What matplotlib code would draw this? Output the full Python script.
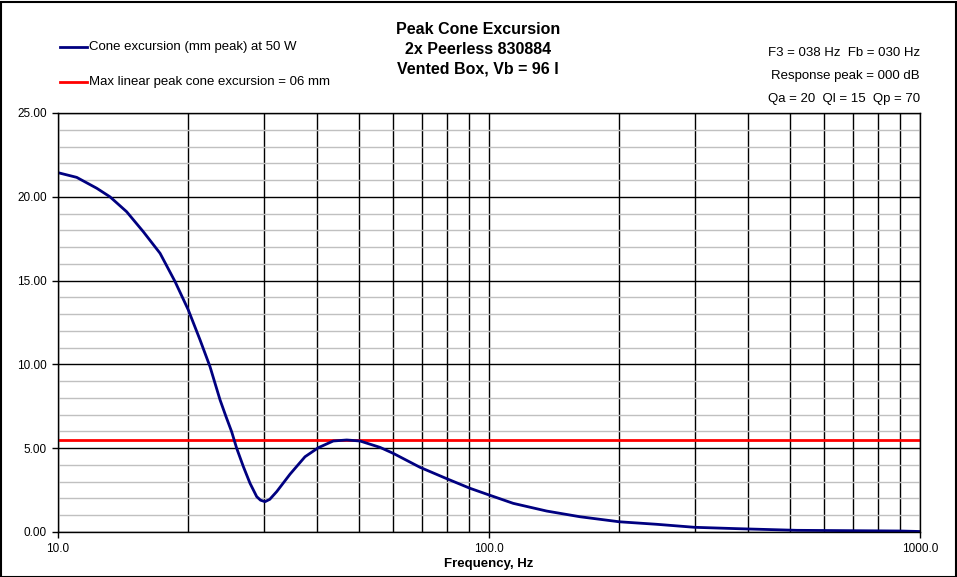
import numpy as np
import matplotlib.pyplot as plt
from matplotlib.ticker import FixedLocator, MultipleLocator, NullFormatter

# -----------------------------
# Data
# -----------------------------
freq_hz = [10.0, 11.05, 12.30, 13.2, 14.43, 15.77, 17.25, 18.69,
           20.06, 21.36, 22.53, 23.14, 23.77, 24.54, 25.29, 25.98, 26.92,
           27.89, 28.91, 29.5, 30.22, 31.0, 32.17, 34.54, 37.42,
           40.18, 43.52, 46.77, 50.2, 55.86, 59.98, 69.17, 79.8, 90.3, 100.0,
           113.8, 136.1, 162.6, 200.6, 244.9, 300.0, 375.6, 517.6, 898.8, 1000.0]
excursion_mm = [21.44, 21.16, 20.51, 20.00, 19.11, 17.92, 16.63, 14.94,
                13.25, 11.46, 9.86, 8.87, 7.88, 6.88, 5.98, 4.99, 3.90,
                2.91, 2.11, 1.90, 1.81, 1.95, 2.41, 3.45, 4.49,
                5.03, 5.43, 5.49, 5.43, 5.05, 4.69, 3.86, 3.18, 2.61, 2.21,
                1.71, 1.25, 0.91, 0.61, 0.46, 0.28, 0.20, 0.10, 0.06, 0.03]
xmax_mm = 5.5

title_lines = ["Peak Cone Excursion", "2x Peerless 830884", "Vented Box, Vb = 96 l"]
legend_labels = ["Cone excursion (mm peak) at 50 W",
                 "Max linear peak cone excursion = 06 mm"]
info_lines = ["F3 = 038 Hz  Fb = 030 Hz", "Response peak = 000 dB",
              "Qa = 20  Ql = 15  Qp = 70"]
x_ticks = [10, 100, 1000]
x_ticklabels = ["10.0", "100.0", "1000.0"]

plt.rcParams['font.family'] = ['Liberation Sans', 'DejaVu Sans']

W, H = 957, 577
fig = plt.figure(figsize=(W / 100, H / 100), dpi=100)
fig.patch.set_facecolor("white")
fig.patches.append(plt.Rectangle((0.5 / W, 0.5 / H), 1 - 2 / W, 1 - 2 / H,
                                 transform=fig.transFigure, fill=False,
                                 edgecolor="black", linewidth=1.5))

ax = fig.add_axes([58 / W, 1 - 532 / H, (920 - 58) / W, (532 - 113) / H])
ax.set_xscale("log")
ax.set_xlim(10, 1000)
ax.set_ylim(0, 25)

# grid
ax.xaxis.set_major_locator(FixedLocator(x_ticks))
ax.xaxis.set_minor_locator(FixedLocator([m * d for d in (10, 100) for m in range(2, 10)]))
ax.xaxis.set_minor_formatter(NullFormatter())
ax.set_xticks(x_ticks, x_ticklabels)
ax.yaxis.set_major_locator(MultipleLocator(5))
ax.yaxis.set_minor_locator(MultipleLocator(1))
ax.set_yticks(np.arange(0, 26, 5), [f"{v:.2f}" for v in range(0, 26, 5)])
ax.grid(True, which="major", color="black", linewidth=1.0)
ax.grid(True, which="minor", axis="y", color="#c0c0c0", linewidth=1.0)
ax.grid(True, which="minor", axis="x", color="black", linewidth=1.0)
ax.set_axisbelow(True)
ax.tick_params(which="major", direction="out", length=4, width=1, labelsize=8.5, pad=4)
ax.tick_params(which="minor", length=0)
for s in ax.spines.values():
    s.set_linewidth(1.0)

ax.axhline(xmax_mm, color="#ff0000", linewidth=2.0)
ax.plot(freq_hz, excursion_mm, color="#000080", linewidth=2.0)

ax.set_xlabel("Frequency, Hz", fontsize=9.5, fontweight="bold", labelpad=2)

# title
for i, t in enumerate(title_lines):
    fig.text(478 / W, 1 - (30 + 19.5 * i) / H, t, ha="center", va="center",
             fontsize=11.5, fontweight="bold")

# legend drawn by hand at the upper left
for i, (lab, col) in enumerate(zip(legend_labels, ["#000080", "#ff0000"])):
    yy = 1 - (47 + 35 * i) / H
    fig.add_artist(plt.Line2D([60 / W, 87 / W], [yy, yy], color=col, linewidth=2.0,
                              transform=fig.transFigure))
    fig.text(89 / W, yy, lab, ha="left", va="center", fontsize=9.5)

# info text upper right
for i, t in enumerate(info_lines):
    fig.text(920 / W, 1 - (53 + 23 * i) / H, t, ha="right", va="center", fontsize=9.5)

fig.savefig("out.png", dpi=100, facecolor="white")
